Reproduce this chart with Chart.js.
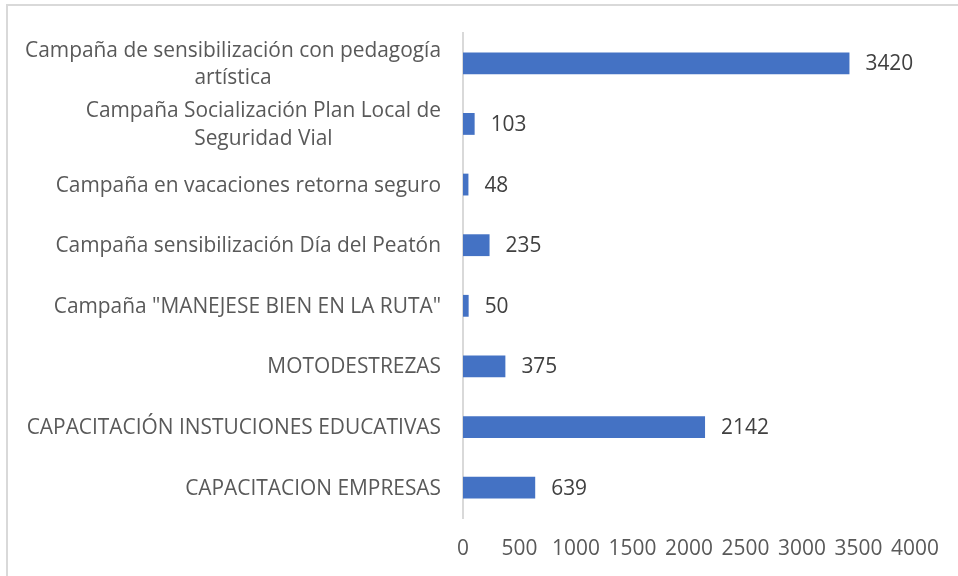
<!DOCTYPE html>
<html>
<head>
<meta charset="utf-8">
<script src="https://cdn.jsdelivr.net/npm/chart.js@4.4.1/dist/chart.umd.min.js"></script>
<style>
  html, body { margin: 0; padding: 0; background: #fff; overflow: hidden; }
  #marco { position: absolute; left: 6px; top: 4px; width: 2000px; height: 2000px; border: 2px solid #d9d9d9; }
  #caja { position: absolute; left: 0; top: 0; width: 958px; height: 576px; }
</style>
</head>
<body>
<div id="marco"></div>
<div id="caja"><canvas id="grafico"></canvas></div>
<script>
const categorias = [
    ['Campaña de sensibilización con pedagogía', 'artística'],
    ['Campaña Socialización Plan Local de', 'Seguridad Vial'],
    ['Campaña en vacaciones retorna seguro'],
    ['Campaña sensibilización Día del Peatón'],
    ['Campaña "MANEJESE BIEN EN LA RUTA"'],
    ['MOTODESTREZAS'],
    ['CAPACITACIÓN INSTUCIONES EDUCATIVAS'],
    ['CAPACITACION EMPRESAS']
];
const valores = [3420, 103, 48, 235, 50, 375, 2142, 639];
const ejeMax = 4000;
const ejePaso = 500;

const fuente = '"Open Sans", sans-serif';
const tamano = 20.9;

// etiquetas de categoria centradas entre lineas, como en Excel
const etiquetasY = {
    id: 'etiquetasY',
    afterDraw(chart) {
        const ctx = chart.ctx;
        const y = chart.scales.y;
        ctx.save();
        ctx.font = tamano + 'px ' + fuente;
        ctx.fillStyle = '#595959';
        ctx.textAlign = 'center';
        ctx.textBaseline = 'middle';
        const derecha = chart.chartArea.left - 22;
        categorias.forEach(function (lineas, i) {
            const centro = y.getPixelForTick(i);
            const anchos = lineas.map(l => ctx.measureText(l).width);
            const cx = derecha - Math.max(...anchos) / 2;
            const alto = 27.5;
            const inicio = centro - (lineas.length - 1) * alto / 2 + 1;
            lineas.forEach(function (l, k) {
                ctx.fillText(l, cx, inicio + k * alto);
            });
        });
        ctx.restore();
    }
};

const etiquetasDatos = {
    id: 'etiquetasDatos',
    afterDatasetsDraw(chart) {
        const ctx = chart.ctx;
        const meta = chart.getDatasetMeta(0);
        ctx.save();
        ctx.font = tamano + 'px ' + fuente;
        ctx.fillStyle = '#404040';
        ctx.textAlign = 'left';
        ctx.textBaseline = 'middle';
        meta.data.forEach(function (barra, i) {
            ctx.fillText(String(valores[i]), barra.x + 16, barra.y + 1);
        });
        ctx.restore();
    }
};

new Chart(document.getElementById('grafico').getContext('2d'), {
    type: 'bar',
    data: {
        labels: categorias,
        datasets: [{
            data: valores,
            backgroundColor: '#4472C4',
            borderColor: '#4472C4',
            borderWidth: 0,
            barPercentage: 0.36,
            categoryPercentage: 1
        }]
    },
    options: {
        indexAxis: 'y',
        responsive: true,
        maintainAspectRatio: false,
        animation: false,
        layout: { padding: { top: 33, right: 43, bottom: 0, left: 0 } },
        plugins: {
            legend: { display: false },
            tooltip: { enabled: false }
        },
        scales: {
            x: {
                min: 0,
                max: ejeMax,
                grid: { display: false, drawTicks: false },
                border: { display: false },
                ticks: {
                    stepSize: ejePaso,
                    padding: 19,
                    maxRotation: 0,
                    autoSkip: false,
                    color: '#595959',
                    font: { family: fuente, size: tamano },
                    callback: v => String(v)
                },
                afterFit(scale) { scale.height = 58; }
            },
            y: {
                grid: { display: false, drawTicks: false },
                border: { display: true, color: '#d9d9d9', width: 2 },
                ticks: { display: false },
                afterFit(scale) { scale.width = 463; }
            }
        }
    },
    plugins: [etiquetasY, etiquetasDatos]
});
</script>
</body>
</html>
